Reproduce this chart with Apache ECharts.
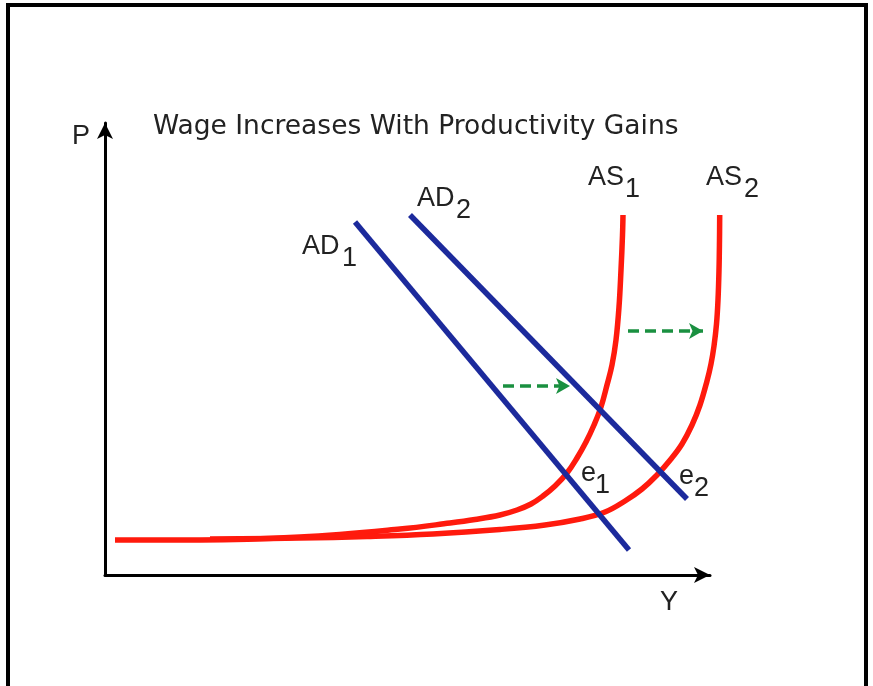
<!DOCTYPE html>
<html>
<head>
<meta charset="utf-8">
<script src="https://cdn.jsdelivr.net/npm/echarts@6/dist/echarts.min.js"></script>
<style>html,body{margin:0;padding:0;background:#fff;}#c{width:873px;height:686px;}</style>
</head>
<body>
<div id="c"></div>
<script>
// Data (x = output Y, y = price level P), arbitrary units
const AD1 = [[250, 353], [524, 25]];
const AD2 = [[305, 360], [582, 76]];
const AS1 = [[10,35],[95,35],[195,38],[295,46],[345,52],[370,55.5],[395,60],[412,65],[426,71],[438,79],[450,89],[462,102],[472,117],[481,133],[489,150],[496,168],[502,190],[507,210],[511,235],[514,268],[516,305],[517.5,340],[518,360]];
const AS2 = [[105,36],[195,37],[262,38.5],[328,41],[395,45.5],[440,50],[475,56],[500,63],[520,74],[537,86],[552,100],[566,116],[577,131],[587,150],[595,170],[602,194],[606,211],[609,229],[611.5,251],[613,275],[614,305],[614.5,335],[614.7,360]];
const SHIFT1 = [[398, 189], [465, 189]];
const SHIFT2 = [[523, 244], [598, 244]];
const titleText = 'Wage Increases With Productivity Gains';

const FONT = 'Liberation Sans';
const TXT = '#222';
const chart = echarts.init(document.getElementById('c'), null, {renderer: 'canvas'});

function txt(x, y, s, size, fam) {
  return {type: 'text', left: x, top: y, z: 100,
    style: {text: s, fontSize: size || 27, fontFamily: fam || FONT, fill: TXT}};
}
const hidden = {axisLine: {show: false}, axisTick: {show: false}, axisLabel: {show: false}, splitLine: {show: false}};
const arrowLine = {show: true, onZero: false, symbol: ['none', 'arrow'], symbolSize: [12, 16],
  lineStyle: {color: '#000', width: 3}};

chart.setOption({
  backgroundColor: '#fff',
  animation: false,
  grid: [
    {left: 105, right: 68, top: 123, bottom: 111},   // plotting area (1 unit = 1 px)
    {left: 105, right: 163, top: 123, bottom: 111}   // visible axes with arrows
  ],
  xAxis: [
    Object.assign({type: 'value', min: 0, max: 700, gridIndex: 0}, hidden),
    {type: 'value', min: 0, max: 605, gridIndex: 1, axisLine: arrowLine,
      axisTick: {show: false}, axisLabel: {show: false}, splitLine: {show: false}}
  ],
  yAxis: [
    Object.assign({type: 'value', min: 0, max: 452, gridIndex: 0}, hidden),
    {type: 'value', min: 0, max: 452, gridIndex: 1, axisLine: arrowLine,
      axisTick: {show: false}, axisLabel: {show: false}, splitLine: {show: false}}
  ],
  series: [
    {type: 'line', data: AS1, smooth: 0.4, showSymbol: false,
      lineStyle: {color: '#ff1a0d', width: 5.5}},
    {type: 'line', data: AS2, smooth: 0.4, showSymbol: false,
      lineStyle: {color: '#ff1a0d', width: 5.5}},
    {type: 'line', data: AD1, showSymbol: false,
      lineStyle: {color: '#1c2a9c', width: 5.5}},
    {type: 'line', data: AD2, showSymbol: false,
      lineStyle: {color: '#1c2a9c', width: 5.5}},
    {type: 'line', data: [], markLine: {
      silent: true, symbol: ['none', 'arrow'], symbolSize: [12, 14], label: {show: false},
      lineStyle: {color: '#1a9040', width: 3.5, type: [11, 6]},
      data: [
        [{coord: SHIFT1[0]}, {coord: SHIFT1[1]}],
        [{coord: SHIFT2[0]}, {coord: SHIFT2[1]}]
      ]}}
  ],
  graphic: [
    {type: 'polyline', z: 100, shape: {points: [[8, 686], [8, 5], [866, 5], [866, 686]]},
      style: {stroke: '#000', lineWidth: 4, fill: null}},
    txt(153, 114, titleText, 26.5, 'DejaVu Sans'),
    txt(72, 123, 'P'),
    txt(660, 589, 'Y'),
    txt(302, 233, 'AD'), txt(342, 245, '1'),
    txt(417, 185, 'AD'), txt(456, 197, '2'),
    txt(588, 164, 'AS'), txt(625, 176, '1'),
    txt(706, 164, 'AS'), txt(744, 176, '2'),
    txt(581, 460, 'e'), txt(595, 472, '1'),
    txt(679, 463, 'e'), txt(694, 475, '2')
  ]
});
</script>
</body>
</html>
